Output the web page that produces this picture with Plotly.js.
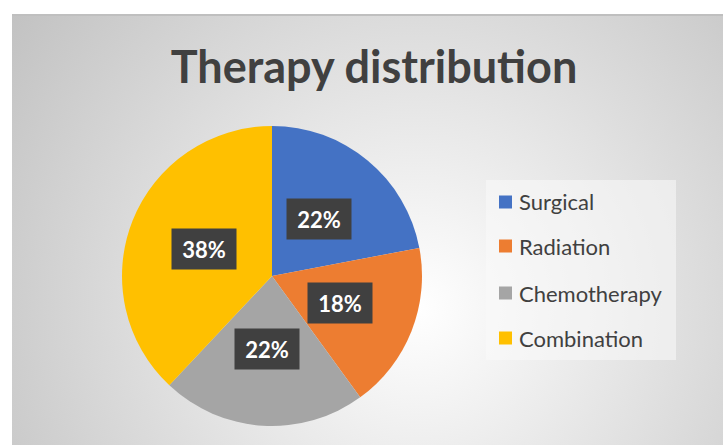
<!DOCTYPE html>
<html>
<head>
<meta charset="utf-8">
<script src="https://cdn.plot.ly/plotly-3.0.1.min.js"></script>
<style>
  html, body { margin: 0; padding: 0; background: #ffffff; }
  #bg {
    position: absolute; left: 12px; top: 14px; width: 711px; height: 431px;
    border-top: 2px solid #bfbfbf; box-sizing: border-box;
    background: radial-gradient(circle farthest-corner at 57% 68%, #ffffff 0%, #f4f4f4 18%, #c2c2c2 100%);
  }
  #chart { position: absolute; left: 0; top: 0; width: 723px; height: 445px; }
</style>
</head>
<body>
<div id="bg"></div>
<div id="chart"></div>
<script>
const categories = ["Surgical", "Radiation", "Chemotherapy", "Combination"];
const values = [22, 18, 22, 38];
const colors = ["#4472C4", "#ED7D31", "#A5A5A5", "#FFC000"];
const chartTitle = "Therapy distribution";

const W = 723, H = 445;
// pie geometry in pixels
const cx = 272, cy = 276, R = 150;
const domX = [(cx - R) / W, (cx + R) / W];
const domY = [(H - cy - R) / H, (H - cy + R) / H];

const total = values.reduce((a, b) => a + b, 0);
const annotations = [];
const shapes = [];

// data labels in dark boxes, placed at slice mid-angles
let cum = 0;
values.forEach((v, i) => {
  const mid = (cum + v / 2) / total * 2 * Math.PI;
  cum += v;
  const r = 0.49 * R;
  const px = cx + r * Math.sin(mid);
  const py = cy - r * Math.cos(mid);
  annotations.push({
    xref: "paper", yref: "paper", x: px / W, y: 1 - py / H,
    xanchor: "center", yanchor: "middle", showarrow: false,
    text: "<b>" + Math.round(v / total * 100) + "%</b>",
    font: { family: "Lato, 'Open Sans', sans-serif", size: 22, color: "#ffffff" },
    bgcolor: "#404040", width: 60, height: 36, borderpad: 2
  });
});

// legend box
const lgX0 = 486, lgX1 = 676, lgY0 = 180, lgY1 = 360;
shapes.push({
  type: "rect", xref: "paper", yref: "paper",
  x0: lgX0 / W, x1: lgX1 / W, y0: 1 - lgY1 / H, y1: 1 - lgY0 / H,
  fillcolor: "rgba(250,250,250,0.55)", line: { width: 0 }, layer: "below"
});
const rowY = [202, 246, 293, 338];
categories.forEach((c, i) => {
  const y = rowY[i];
  shapes.push({
    type: "rect", xref: "paper", yref: "paper",
    x0: 499 / W, x1: 512 / W, y0: 1 - (y + 6.5) / H, y1: 1 - (y - 6.5) / H,
    fillcolor: colors[i], line: { width: 0 }
  });
  annotations.push({
    xref: "paper", yref: "paper", x: 517 / W, y: 1 - y / H,
    xanchor: "left", yanchor: "middle", showarrow: false,
    text: c, font: { family: "Lato, 'Open Sans', sans-serif", size: 22, color: "#404040" }
  });
});

const data = [{
  type: "pie",
  labels: categories,
  values: values,
  marker: { colors: colors, line: { width: 0 } },
  sort: false,
  direction: "clockwise",
  rotation: 0,
  textinfo: "none",
  hoverinfo: "label+percent",
  showlegend: false,
  domain: { x: domX, y: domY }
}];

const layout = {
  width: W, height: H,
  margin: { l: 0, r: 0, t: 0, b: 0 },
  paper_bgcolor: "rgba(0,0,0,0)",
  plot_bgcolor: "rgba(0,0,0,0)",
  title: {
    text: "<b>" + chartTitle + "</b>",
    x: 374 / W, xanchor: "center",
    y: 1 - 67 / H, yanchor: "middle",
    font: { family: "Lato, 'Open Sans', sans-serif", size: 45, color: "#404040" }
  },
  showlegend: false,
  annotations: annotations,
  shapes: shapes
};

Plotly.newPlot("chart", data, layout, { displayModeBar: false, staticPlot: true });
</script>
</body>
</html>
